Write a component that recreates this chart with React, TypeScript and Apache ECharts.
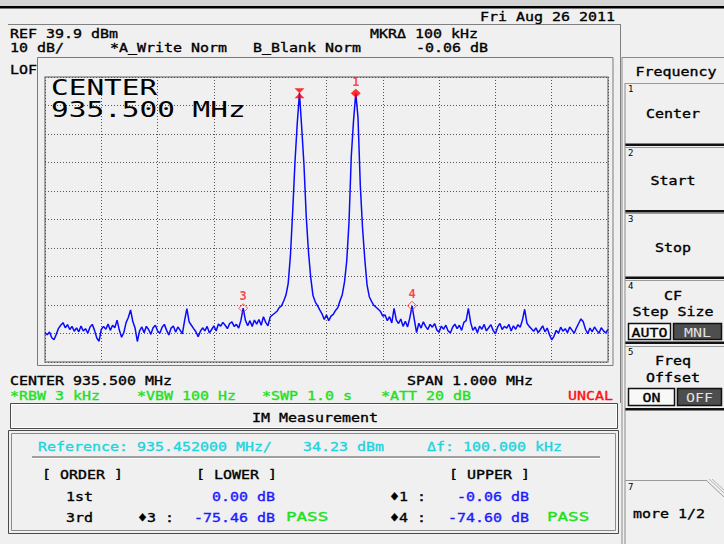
import React, { useEffect, useRef } from 'react';
import * as echarts from 'echarts';

// ---- Data ----
const xMinMHz = 935.0;
const xMaxMHz = 936.0;
const xDivMHz = 0.1;
const refLevelDbm = 39.9;
const dbPerDiv = 10;
const bottomLevelDbm = refLevelDbm - 10 * dbPerDiv;

const traceStartMHz = 935.0;
const traceStepMHz = 0.004;
const traceDbm = [
  -49.9, -50.5, -49.6, -51.6, -52.3, -50.4, -48.3, -47.2, -46.3, -48.1,
  -47.0, -48.7, -47.6, -49.3, -48.1, -49.5, -47.5, -49.2, -48.4, -50.0,
  -47.8, -46.9, -49.0, -51.7, -52.8, -48.7, -47.6, -48.6, -46.8, -49.0,
  -47.2, -48.1, -45.4, -48.9, -51.4, -49.8, -46.3, -44.5, -41.8, -45.9,
  -48.2, -52.9, -49.2, -47.8, -49.8, -47.6, -48.7, -50.4, -48.1, -47.2,
  -49.2, -50.0, -47.9, -46.9, -49.0, -50.6, -48.2, -47.5, -49.6, -47.8,
  -48.9, -50.2, -45.5, -41.4, -46.0, -47.2, -48.4, -49.5, -51.2, -49.3,
  -48.1, -49.2, -47.6, -49.9, -48.7, -47.4, -49.2, -46.8, -47.5, -46.2,
  -47.2, -48.4, -46.6, -46.0, -47.6, -46.9, -48.2, -45.5, -41.2, -45.5,
  -47.4, -45.6, -47.6, -45.4, -46.8, -45.2, -47.2, -44.2, -46.2, -47.4,
  -44.3, -43.6, -43.0, -42.3, -41.0, -40.4, -38.7, -36.6, -32.5, -22.5,
  -7.0, 10.0, 23.5, 34.23, 22.0, 9.0, -9.0, -21.5, -30.5, -36.8,
  -39.0, -40.3, -41.8, -43.2, -45.2, -43.6, -45.6, -44.0, -43.4, -42.0,
  -41.1, -38.6, -36.5, -32.0, -24.5, -11.0, 12.0, 24.5, 34.17, 25.5,
  2.0, -13.0, -24.0, -33.0, -37.2, -38.8, -40.2, -40.9, -41.6, -42.4,
  -44.0, -43.6, -45.6, -44.2, -46.4, -41.3, -45.4, -46.6, -45.0, -47.6,
  -45.8, -47.8, -44.6, -40.4, -45.2, -49.8, -46.5, -48.2, -46.0, -47.6,
  -48.7, -46.9, -47.9, -46.6, -48.9, -49.6, -47.5, -48.6, -47.2, -49.2,
  -49.9, -47.9, -46.8, -48.4, -47.2, -49.0, -46.2, -45.6, -41.3, -46.2,
  -49.0, -47.8, -49.8, -47.5, -48.6, -46.9, -49.2, -48.1, -47.0, -49.0,
  -50.2, -47.8, -46.6, -48.7, -47.6, -48.2, -46.9, -49.2, -47.4, -48.6,
  -47.0, -47.9, -45.4, -41.6, -46.5, -47.6, -48.4, -49.3, -48.1, -49.8,
  -48.7, -47.4, -49.5, -48.2, -50.5, -52.3, -51.1, -49.0, -50.0, -47.9,
  -49.3, -48.4, -49.8, -47.8, -48.9, -50.0, -48.1, -46.5, -45.0, -46.0,
  -48.6, -50.2, -48.2, -49.5, -47.8, -49.0, -50.0, -48.1, -49.2, -49.9,
  -48.7,
];

const markerFreqMHz = [935.452, 935.552, 935.352, 935.652];
const markerLevelDbm = [34.23, 34.17, -41.23, -40.37];
const markerLabels = ['', '1', '3', '4'];
const markerKinds = ['delta', 'filled', 'hollow', 'hollow'];

// ---- Styling helpers ----
const MONO = '"DejaVu Sans Mono", monospace';
const BLACK = '#000000';
const GREEN = '#1ee01e';
const CYAN = '#22d3dd';
const BLUE = '#1a1aff';
const RED = '#ff1010';

function txt(x: number, y: number, text: string, fill = BLACK, opts: any = {}) {
  const { size = 13, sx = 1.15, align = 'left', weight = 'normal', sw = 0.35 } = opts;
  return {
    type: 'text',
    x,
    y,
    scaleX: sx,
    silent: true,
    z: 20,
    style: {
      text,
      x: 0,
      y: 0,
      fill,
      stroke: sw > 0 ? fill : 'none',
      lineWidth: sw,
      font: `${weight} ${size}px ${MONO}`,
      align,
      verticalAlign: 'middle',
      textAlign: align,
      textVerticalAlign: 'middle',
    },
  };
}

function ln(x1: number, y1: number, x2: number, y2: number, stroke: string, w = 1) {
  return { type: 'line', silent: true, z: 15, shape: { x1, y1, x2, y2 }, style: { stroke, lineWidth: w } };
}

function box(x: number, y: number, w: number, h: number, stroke: string | null, fill: string | null, lw = 1) {
  return {
    type: 'rect',
    silent: true,
    z: 14,
    shape: { x, y, width: w, height: h },
    style: { stroke: stroke || 'none', fill: fill || 'none', lineWidth: lw },
  };
}

function buildGraphics() {
  const g: any[] = [];
  // top bar
  g.push(box(0, 0, 724, 6, null, '#d4d4d4'));
  g.push(box(0, 6, 724, 2.5, null, '#000000'));
  // display frame
  g.push(ln(8, 24.5, 620, 24.5, '#808080'));
  g.push(ln(620.5, 24, 620.5, 403, '#808080'));
  // plot frame (LOF box)
  g.push(box(37.5, 57.5, 575.5, 308, '#7a7a7a', null));

  // header texts
  g.push(txt(480, 16, 'Fri Aug 26 2011'));
  g.push(txt(10, 33, 'REF 39.9 dBm'));
  g.push(txt(370, 33, 'MKRΔ 100 kHz'));
  g.push(txt(10, 47, '10 dB/'));
  g.push(txt(110, 47, '*A_Write Norm'));
  g.push(txt(253, 47, 'B_Blank Norm'));
  g.push(txt(416, 47, '-0.06 dB'));
  g.push(txt(10, 69, 'LOF'));

  // big center annotation
  g.push(txt(51, 88, 'CENTER', BLACK, { size: 21, sx: 1.4, sw: 0 }));
  g.push(txt(51, 110, '935.500 MHz', BLACK, { size: 21, sx: 1.4, sw: 0 }));

  // below plot
  g.push(txt(10, 380, 'CENTER 935.500 MHz'));
  g.push(txt(407, 380, 'SPAN 1.000 MHz'));
  g.push(txt(10, 395, '*RBW 3 kHz', GREEN));
  g.push(txt(137, 395, '*VBW 100 Hz', GREEN));
  g.push(txt(262, 395, '*SWP 1.0 s', GREEN));
  g.push(txt(381, 395, '*ATT 20 dB', GREEN));
  g.push(txt(613, 395, 'UNCAL', RED, { align: 'right' }));

  // IM measurement header
  g.push(box(10.5, 403.5, 607, 25, '#4a4a4a', null));
  g.push(box(11.5, 404.5, 605, 23, '#ffffff', null));
  g.push(txt(315, 417, 'IM Measurement', BLACK, { align: 'center' }));

  // results box
  g.push(box(8.5, 430.5, 610, 103, '#4a4a4a', null));
  g.push(box(11.5, 433.5, 604, 97, '#8a8a8a', null));
  g.push(txt(38, 446, 'Reference: 935.452000 MHz/', CYAN));
  g.push(txt(303, 446, '34.23 dBm', CYAN));
  g.push(txt(427, 446, 'Δf: 100.000 kHz', CYAN));
  g.push(ln(32, 457, 600, 457, '#a0a0a0', 2));
  g.push(ln(32, 458.5, 600, 458.5, '#ffffff', 1));

  g.push(txt(42, 474, '[ ORDER ]'));
  g.push(txt(196, 474, '[ LOWER ]'));
  g.push(txt(449, 474, '[ UPPER ]'));
  g.push(txt(66, 496, '1st'));
  g.push(txt(66, 517, '3rd'));
  g.push(txt(275, 496, '0.00 dB', BLUE, { align: 'right' }));
  g.push(txt(138, 517, '♦3 :'));
  g.push(txt(275, 517, '-75.46 dB', BLUE, { align: 'right' }));
  g.push(txt(286, 517, 'PASS', GREEN, { sx: 1.35 }));
  g.push(txt(390, 496, '♦1 :'));
  g.push(txt(529, 496, '-0.06 dB', BLUE, { align: 'right' }));
  g.push(txt(390, 517, '♦4 :'));
  g.push(txt(529, 517, '-74.60 dB', BLUE, { align: 'right' }));
  g.push(txt(547, 517, 'PASS', GREEN, { sx: 1.35 }));

  // softkey panel
  g.push(ln(622, 57, 622, 544, '#8a8a8a'));
  g.push(ln(625, 83, 625, 544, '#8a8a8a'));
  g.push(ln(622, 57.5, 724, 57.5, '#8a8a8a'));
  g.push(txt(676, 71, 'Frequency', BLACK, { align: 'center' }));

  const keys = [
    { top: 83, bot: 143.5, n: '1' },
    { top: 147, bot: 210, n: '2' },
    { top: 213, bot: 276.5, n: '3' },
    { top: 280, bot: 341.5, n: '4' },
    { top: 346, bot: 408, n: '5' },
  ];
  keys.forEach((k) => {
    g.push(ln(625, k.top + 0.5, 724, k.top + 0.5, '#9a9a9a'));
    g.push(box(625, k.bot, 99, 2.5, null, '#111111'));
    g.push(txt(628, k.top + 6, k.n, BLACK, { size: 9, sx: 1, sw: 0 }));
  });
  g.push(txt(673, 113, 'Center', BLACK, { align: 'center' }));
  g.push(txt(673, 180, 'Start', BLACK, { align: 'center' }));
  g.push(txt(673, 247, 'Stop', BLACK, { align: 'center' }));
  g.push(txt(673, 295, 'CF', BLACK, { align: 'center' }));
  g.push(txt(673, 311, 'Step Size', BLACK, { align: 'center' }));
  g.push(box(628.5, 323.5, 42, 16, '#111111', '#f8f8f8', 1.5));
  g.push(box(673.5, 323.5, 48, 16, '#111111', '#4e4e4e', 1.5));
  g.push(txt(649.5, 332, 'AUTO', BLACK, { align: 'center' }));
  g.push(txt(697.5, 332, 'MNL', '#e4e4e4', { align: 'center', sw: 0 }));
  g.push(txt(673, 360, 'Freq', BLACK, { align: 'center' }));
  g.push(txt(673, 377, 'Offset', BLACK, { align: 'center' }));
  g.push(box(628.5, 388.5, 46, 17, '#111111', '#f8f8f8', 1.5));
  g.push(box(677.5, 388.5, 44, 17, '#111111', '#4e4e4e', 1.5));
  g.push(txt(651.5, 397, 'ON', BLACK, { align: 'center' }));
  g.push(txt(699.5, 397, 'OFF', '#e4e4e4', { align: 'center', sw: 0 }));

  // key 7 with folded corner
  g.push(ln(625, 480.5, 706, 480.5, '#9a9a9a'));
  g.push(ln(706, 480, 724, 497, '#9a9a9a'));
  g.push(ln(709, 479, 724, 493, '#b4b4b4'));
  g.push(ln(712, 479, 724, 490, '#b4b4b4'));
  g.push(txt(628, 487, '7', BLACK, { size: 9, sx: 1, sw: 0 }));
  g.push(txt(669, 513, 'more 1/2', BLACK, { align: 'center' }));
  return g;
}

function buildOption() {
  const traceData = traceDbm.map((v, i) => [
    +(traceStartMHz + i * traceStepMHz).toFixed(3),
    v,
  ]);
  const hourglass = 'path://M0,0L10,0L5,5L10,10L0,10L5,5Z';
  const markerData = markerFreqMHz.map((f, i) => {
    const kind = markerKinds[i];
    const base: any = { value: [f, markerLevelDbm[i]] };
    if (kind === 'delta') {
      base.symbol = hourglass;
      base.symbolSize = [10, 10];
      base.itemStyle = { color: '#ff0000' };
    } else if (kind === 'filled') {
      base.symbol = 'diamond';
      base.symbolSize = [10, 9];
      base.itemStyle = { color: '#ff0000' };
    } else {
      base.symbol = 'diamond';
      base.symbolSize = [9, 9];
      base.itemStyle = { color: 'rgba(0,0,0,0)', borderColor: '#ff3030', borderWidth: 1 };
    }
    base.label = {
      show: markerLabels[i] !== '',
      formatter: markerLabels[i],
      position: 'top',
      distance: 1,
      color: '#ff1a1a',
      fontFamily: MONO,
      fontSize: 12,
      fontWeight: 'bold',
    };
    return base;
  });

  const gridLine = { show: true, lineStyle: { color: '#555555', type: [1, 2], width: 1 } };

  return {
    animation: false,
    backgroundColor: '#f0f0f0',
    grid: { left: 45, top: 77, width: 563, height: 285, show: true, borderColor: '#8c8c8c', borderWidth: 1.5, backgroundColor: 'transparent' },
    xAxis: {
      type: 'value',
      min: xMinMHz,
      max: xMaxMHz,
      interval: xDivMHz,
      axisLine: { show: false },
      axisTick: { show: false },
      axisLabel: { show: false },
      splitLine: gridLine,
    },
    yAxis: {
      type: 'value',
      min: bottomLevelDbm,
      max: refLevelDbm,
      interval: dbPerDiv,
      axisLine: { show: false },
      axisTick: { show: false },
      axisLabel: { show: false },
      splitLine: gridLine,
    },
    series: [
      {
        type: 'line',
        data: traceData,
        showSymbol: false,
        symbol: 'none',
        clip: true,
        z: 5,
        lineStyle: { color: '#0a0aff', width: 1.5 },
      },
      {
        type: 'scatter',
        data: markerData,
        z: 8,
      },
    ],
    graphic: { elements: buildGraphics() },
  };
}

export default function App() {
  const ref = useRef<HTMLDivElement>(null);
  useEffect(() => {
    document.body.style.margin = '0';
    const chart = echarts.init(ref.current!, null, { renderer: 'svg' });
    chart.setOption(buildOption() as any);
    return () => chart.dispose();
  }, []);
  return (
    <div
      ref={ref}
      style={{ position: 'absolute', left: 0, top: 0, width: 724, height: 544 }}
    />
  );
}
